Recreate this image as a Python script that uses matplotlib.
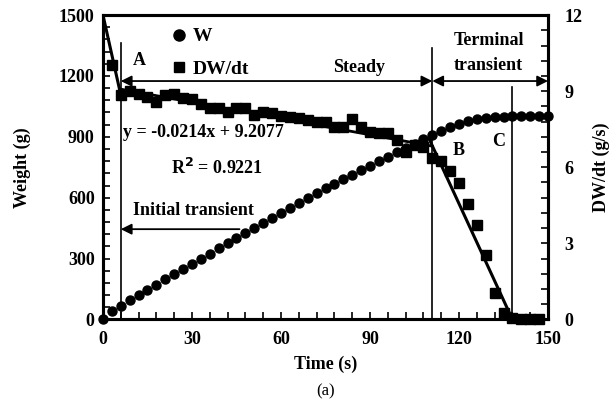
import matplotlib.pyplot as plt
import numpy as np
from matplotlib.lines import Line2D

plt.rcParams['font.family'] = ['Liberation Serif', 'DejaVu Serif']
plt.rcParams['font.weight'] = 'bold'
plt.rcParams['axes.labelweight'] = 'bold'
plt.rcParams['font.size'] = 13

# weight W (g), sampled every 3 s
time_w = np.arange(0, 151, 3)
weight = [0, 42, 68, 95, 119, 144, 172, 198, 224, 250, 275, 300, 325, 350, 376,
          400, 426, 451, 476, 500, 525, 550, 573, 597, 622, 646, 668, 690, 712,
          736, 757, 779, 800, 823, 845, 867, 888, 908, 928, 947, 963, 977, 988,
          995, 999, 1000, 1001, 1001, 1001, 1001, 1001]

# DW/dt (g/s)
time_r = np.arange(3, 148, 3)
rate = [10.03, 8.85, 9.02, 8.87, 8.78, 8.58, 8.85, 8.87, 8.74, 8.69, 8.49, 8.32,
        8.32, 8.19, 8.32, 8.32, 8.06, 8.19, 8.13, 8.02, 7.99, 7.93, 7.86, 7.8,
        7.8, 7.57, 7.57, 7.89, 7.6, 7.38, 7.36, 7.36, 7.07, 6.6, 6.88, 6.81,
        6.37, 6.26, 5.86, 5.39, 4.55, 3.72, 2.54, 1.03, 0.27, 0.05, 0, 0, 0]

# trend lines
init_t, init_r = [0, 6], [12, 8.85]
slope, intercept = -0.0214, 9.2077
steady_t = np.array([6, 111])
term_t, term_r = [110, 138], [7.1, 0]

# phase boundaries
t_a, t_b, t_c = 6, 111, 138

fig = plt.figure(figsize=(6.13, 4.08), dpi=100)
ax = fig.add_axes([0.168, 0.217, 0.726, 0.746])
ax2 = ax.twinx()

ax.plot(time_w, weight, 'o', color='k', ms=6.5, zorder=4, clip_on=False)
ax2.plot(time_r, rate, 's', color='k', ms=7.5, zorder=3, clip_on=False)
ax2.plot(init_t, init_r, '-', color='k', lw=2.2)
ax2.plot(steady_t, slope * steady_t + intercept, '-', color='k', lw=2)
ax2.plot(term_t, term_r, '-', color='k', lw=2.2)

ax.set_xlim(0, 150)
ax.set_ylim(0, 1500)
ax2.set_ylim(0, 12)
ax.set_xticks(np.arange(0, 151, 30))
ax.set_xticks(np.arange(0, 151, 6), minor=True)
ax.set_yticks(np.arange(0, 1501, 300))
ax.set_yticks(np.arange(0, 1501, 60), minor=True)
ax2.set_yticks(np.arange(0, 13, 3))
ax2.set_yticks(np.arange(0, 12.1, 0.6), minor=True)

for a in (ax, ax2):
    a.tick_params(which='both', direction='in', length=5, width=1.2, pad=8)
    for s in a.spines.values():
        s.set_linewidth(2.2)
ax.tick_params(axis='x', which='both', top=False)
ax.tick_params(axis='y', pad=6)
ax2.tick_params(axis='y', pad=12)

ax.set_xlabel('Time (s)', labelpad=6)
ax.set_ylabel('Weight (g)', labelpad=20)
ax2.set_ylabel('DW/dt (g/s)', labelpad=7)

# vertical boundaries
ax.plot([t_a, t_a], [0, 1362], color='k', lw=1.2)
ax.plot([t_b, t_b], [0, 1336], color='k', lw=1.2)
ax.plot([t_c, t_c], [0, 1144], color='k', lw=1.2)

arrow = dict(arrowstyle='<|-|>', color='k', lw=1.3, mutation_scale=16,
             shrinkA=0, shrinkB=0)
ax.annotate('', xy=(t_a, 1175), xytext=(t_b, 1175), arrowprops=arrow)
ax.annotate('', xy=(t_b, 1175), xytext=(150, 1175), arrowprops=arrow)
ax.annotate('', xy=(t_a, 445), xytext=(46, 445),
            arrowprops=dict(arrowstyle='-|>', color='k', lw=1.3,
                            mutation_scale=16, shrinkA=0, shrinkB=0))

ax.text(12.4, 1278, 'A', ha='center', va='center')
ax.text(120, 835, 'B', ha='center', va='center')
ax.text(133.5, 876, 'C', ha='center', va='center')
ax.text(86.4, 1244, 'Steady', ha='center', va='center')
ax.text(130, 1377, 'Terminal', ha='center', va='center')
ax.text(130, 1254, 'transient', ha='center', va='center')
ax.text(30.6, 536, 'Initial transient', ha='center', va='center')
ax.text(6.7, 919, 'y = -0.0214x + 9.2077', ha='left', va='center')
ax.text(38.5, 746, 'R$^2$ = 0.9221', ha='center', va='center')

handles = [Line2D([], [], marker='o', ls='', color='k', ms=8),
           Line2D([], [], marker='s', ls='', color='k', ms=7)]
fig.legend(handles, ['W', 'DW/dt'], loc='upper left',
           bbox_to_anchor=(0.25, 0.975), frameon=False, handlelength=0.8,
           handletextpad=0.35, labelspacing=0.75, prop={'size': 14, 'weight': 'bold'})

fig.text(0.531, 0.04, '(a)', ha='center', va='center', fontweight='normal', fontsize=12)

fig.savefig('out.png', dpi=100)
